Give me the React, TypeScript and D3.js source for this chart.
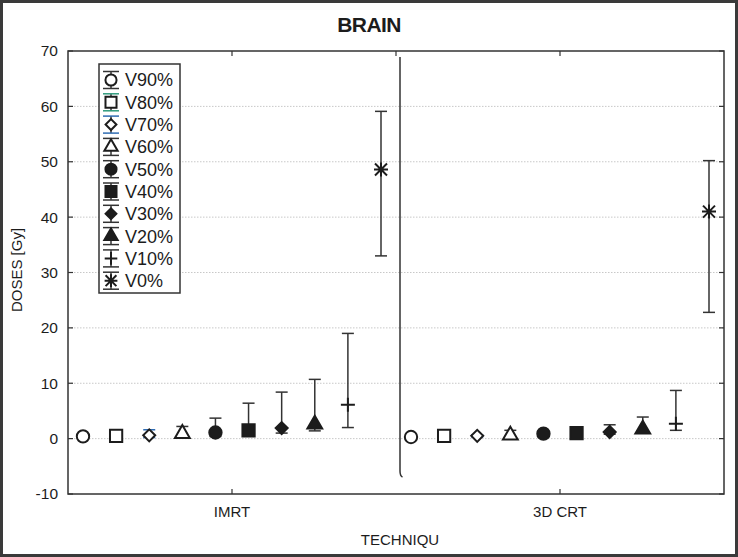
import React, { useEffect } from "react";
import * as d3 from "d3";

const techniques = ["IMRT", "3D CRT"];
const series = ["V90%", "V80%", "V70%", "V60%", "V50%", "V40%", "V30%", "V20%", "V10%", "V0%"];

// mean, lower and upper end of the whisker
const imrtMean = [0.4, 0.5, 0.6, 0.9, 1.1, 1.5, 1.9, 2.6, 6.1, 48.6];
const imrtLow = [0.2, 0.3, 0.2, 0.3, 0.4, 0.6, 1.0, 1.4, 2.0, 33.0];
const imrtHigh = [0.6, 0.8, 1.6, 2.2, 3.7, 6.4, 8.4, 10.7, 19.0, 59.1];

const crtMean = [0.3, 0.5, 0.5, 0.6, 0.9, 1.0, 1.2, 1.7, 2.7, 41.0];
const crtLow = [0.2, 0.3, 0.3, 0.3, 0.5, 0.6, 0.8, 1.2, 1.5, 22.8];
const crtHigh = [0.4, 0.7, 0.7, 1.5, 1.3, 1.4, 2.5, 3.9, 8.7, 50.2];

const yTicks = [-10, 0, 10, 20, 30, 40, 50, 60, 70];
const gridTicks = [0, 10, 20, 30, 40, 50, 60];

const W = 738;
const H = 557;
const M = { left: 68, right: 724, top: 51, bottom: 494 };

const FONT = "'Liberation Sans', Arial, sans-serif";
const INK = "#1c1c1c";

// marker type per series
const markers = ["circle", "square", "diamond", "triangle", "circle", "square", "diamond", "triangle", "plus", "star"];
const filled = [false, false, false, false, true, true, true, true, false, false];
const barColor = (i: number) => (i === 1 ? "#2e9a7c" : i === 2 ? "#2f6cb3" : "#333");

function markerPath(i: number, scale = 1) {
  const t = markers[i];
  if (t === "plus") {
    const s = 7 * scale;
    return `M${-s},0L${s},0M0,${-s}L0,${s}`;
  }
  if (t === "star") {
    const s = 6 * scale;
    return `M${-s},${-s}L${s},${s}M${-s},${s}L${s},${-s}M${-s - 1},0L${s + 1},0M0,${-s - 1}L0,${s + 1}`;
  }
  const type = t === "circle" ? d3.symbolCircle : t === "triangle" ? d3.symbolTriangle : d3.symbolSquare;
  const size = (t === "circle" ? 120 : t === "square" ? 150 : t === "diamond" ? 72 : 95) * scale * scale;
  return d3.symbol().type(type).size(size)() as string;
}

function Marker({ i, x, y, scale = 1 }: { i: number; x: number; y: number; scale?: number }) {
  const t = markers[i];
  const line = t === "plus" || t === "star";
  const rot = t === "diamond" ? " rotate(45)" : "";
  return (
    <path
      d={markerPath(i, scale)}
      transform={`translate(${x},${y})${rot}`}
      fill={line ? "none" : filled[i] ? INK : "#fff"}
      stroke={INK}
      strokeWidth={2}
    />
  );
}

export default function App() {
  useEffect(() => {
    document.body.style.margin = "0";
  }, []);

  const x = d3.scaleBand().domain(techniques).range([M.left, M.right]).padding(0);
  const off = d3.scalePoint().domain(series).range([-149, 149]);
  const y = d3.scaleLinear().domain([-10, 70]).range([M.bottom, M.top]);

  const groups = [
    { tech: techniques[0], mean: imrtMean, low: imrtLow, high: imrtHigh },
    { tech: techniques[1], mean: crtMean, low: crtLow, high: crtHigh },
  ];

  const cx = (t: string) => (x(t) as number) + x.bandwidth() / 2;
  const topTicks = [cx(techniques[0]), M.left + x.bandwidth(), cx(techniques[1])];

  const legX = 111;
  const legY0 = 80;
  const legStep = 22.3;

  return (
    <svg width={W} height={H} style={{ display: "block", background: "#fff" }} fontFamily={FONT}>
      <rect x={1.5} y={1.5} width={W - 3} height={H - 3} fill="#fff" stroke="#3a3a3a" strokeWidth={3} />

      <text x={369} y={32} textAnchor="middle" fontSize={21} fontWeight="bold" fill={INK} letterSpacing={-0.6}>
        BRAIN
      </text>

      {/* grid */}
      {gridTicks.map((t) => (
        <line key={t} x1={M.left} x2={M.right} y1={y(t)} y2={y(t)} stroke="#c8c8c8" strokeWidth={1} strokeDasharray="1.5,1.5" />
      ))}

      {/* axes frame */}
      <rect x={M.left} y={M.top} width={M.right - M.left} height={M.bottom - M.top} fill="none" stroke="#333" strokeWidth={1.5} />
      {yTicks.map((t) => (
        <g key={t}>
          <line x1={M.left} x2={M.left + 5} y1={y(t)} y2={y(t)} stroke="#333" strokeWidth={1.2} />
          <line x1={M.right - 5} x2={M.right} y1={y(t)} y2={y(t)} stroke="#333" strokeWidth={1.2} />
          <text x={58} y={y(t)} dy="0.35em" textAnchor="end" fontSize={15.5} fill={INK}>
            {t}
          </text>
        </g>
      ))}
      {topTicks.map((tx, k) => (
        <line key={k} x1={tx} x2={tx} y1={M.top} y2={M.top + 5} stroke="#333" strokeWidth={1.2} />
      ))}
      {techniques.map((t) => (
        <g key={t}>
          <line x1={cx(t)} x2={cx(t)} y1={M.bottom - 5} y2={M.bottom} stroke="#333" strokeWidth={1.2} />
          <text x={cx(t)} y={517} textAnchor="middle" fontSize={15} fill={INK}>
            {t}
          </text>
        </g>
      ))}

      <text x={400} y={545} textAnchor="middle" fontSize={15} fill={INK}>
        TECHNIQU
      </text>
      <text transform={`translate(22,270) rotate(-90)`} textAnchor="middle" fontSize={15} fill={INK}>
        DOSES [Gy]
      </text>

      {/* divider between techniques */}
      <path d="M400,57L400,471Q400,476 402.5,477" fill="none" stroke="#333" strokeWidth={1.5} />

      {/* error bars and markers */}
      {groups.map((g) => (
        <g key={g.tech}>
          {series.map((s, i) => {
            const px = cx(g.tech) + (off(s) as number);
            const c = barColor(i);
            return (
              <g key={s}>
                <line x1={px} x2={px} y1={y(g.low[i])} y2={y(g.high[i])} stroke={c} strokeWidth={1.5} />
                <line x1={px - 6} x2={px + 6} y1={y(g.low[i])} y2={y(g.low[i])} stroke={c} strokeWidth={1.5} />
                <line x1={px - 6} x2={px + 6} y1={y(g.high[i])} y2={y(g.high[i])} stroke={c} strokeWidth={1.5} />
                <Marker i={i} x={px} y={y(g.mean[i])} />
              </g>
            );
          })}
        </g>
      ))}

      {/* legend */}
      <rect x={99} y={64} width={81} height={229} fill="#fff" stroke="#333" strokeWidth={1.5} />
      {series.map((s, i) => {
        const ly = legY0 + i * legStep;
        const c = barColor(i);
        return (
          <g key={s}>
            <line x1={legX} x2={legX} y1={ly - 8.5} y2={ly + 8.5} stroke="#333" strokeWidth={1.5} />
            <line x1={legX - 8} x2={legX + 8} y1={ly - 8.5} y2={ly - 8.5} stroke={c} strokeWidth={1.5} />
            <line x1={legX - 8} x2={legX + 8} y1={ly + 8.5} y2={ly + 8.5} stroke={c} strokeWidth={1.5} />
            <Marker i={i} x={legX} y={ly} scale={0.9} />
            <text x={125} y={ly} dy="0.36em" fontSize={18} fill={INK}>
              {s}
            </text>
          </g>
        );
      })}
    </svg>
  );
}
